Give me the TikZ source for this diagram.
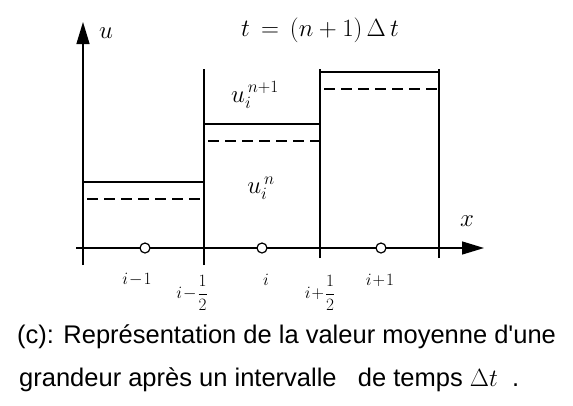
\documentclass[tikz,border=0pt]{standalone}
\usepackage{fontspec}
\usepackage{amsmath}
\newfontfamily\capfont{Liberation Sans}
\usetikzlibrary{arrows.meta}
\begin{document}
\begin{tikzpicture}[x=1pt,y=-1pt,
  axis/.style={line width=1.3pt,-{Triangle[length=22pt,width=13pt]}},
  cellwall/.style={line width=1.8pt},
  level/.style={line width=1.5pt},
  oldlevel/.style={line width=1.1pt,dash pattern=on 11pt off 6pt},
  pt/.style={circle,draw,line width=1.2pt,fill=white,minimum size=10pt,inner sep=0pt},
  lab/.style={inner sep=0pt,font=\fontsize{17}{20}\selectfont},
  mlab/.style={inner sep=0pt,font=\fontsize{23}{27}\selectfont},
  captext/.style={inner sep=0pt,anchor=west,font=\capfont\fontsize{25.5}{30}\selectfont}]
\useasboundingbox (0,0) rectangle (573,405);
% coordinates
\coordinate (ubot) at (83,265);
\coordinate (utop) at (83,22);
\coordinate (xl) at (76,248);
\coordinate (xr) at (484,248);
% cell walls
\draw[cellwall] (204,265) -- (204,69);
\draw[cellwall] (320,258) -- (320,69);
\draw[cellwall] (439,258) -- (439,69);
% levels
\draw[level] (83,182) -- (204,182);
\draw[oldlevel] (87,199) -- (204,199);
\draw[level] (204,124) -- (320,124);
\draw[oldlevel] (208,141) -- (320,141);
\draw[level] (320,72) -- (439,72);
\draw[oldlevel] (324,89) -- (439,89);
% axes
\draw[axis] (ubot) -- (utop);
\draw[axis] (xl) -- (xr);
% points
\node[pt] (p1) at (145,248) {};
\node[pt] (p2) at (262,248) {};
\node[pt] (p3) at (381,248) {};
% labels
\node[mlab] (ulab) at (106,33) {$u$};
\node[mlab] (xlab) at (467,221) {$x$};
\node[mlab] (title) at (320,30) {$t\,=\,(n+1)\,\Delta\,t$};
\node[mlab] (un1) at (255,95) {$u_i^{\,n+1}$};
\node[mlab] (un) at (261,188) {$u_i^{\,n}$};
\node[lab] (l1) at (137,280) {$i\!-\!1$};
\node[lab] (l2) at (192,293) {$i\!-\!\dfrac{1}{2}$};
\node[lab] (l3) at (266,280) {$i$};
\node[lab] (l4) at (320,293) {$i\!+\!\dfrac{1}{2}$};
\node[lab] (l5) at (380,280) {$i\!+\!1$};
% caption
\node[captext] (c1) at (17,337) {(c): Représentation de\ la valeur moyenne d'une};
\node[captext] (c2) at (19,380) {grandeur après un intervalle\ \ \ de temps $\Delta t$\ \ .};
\end{tikzpicture}
\end{document}
